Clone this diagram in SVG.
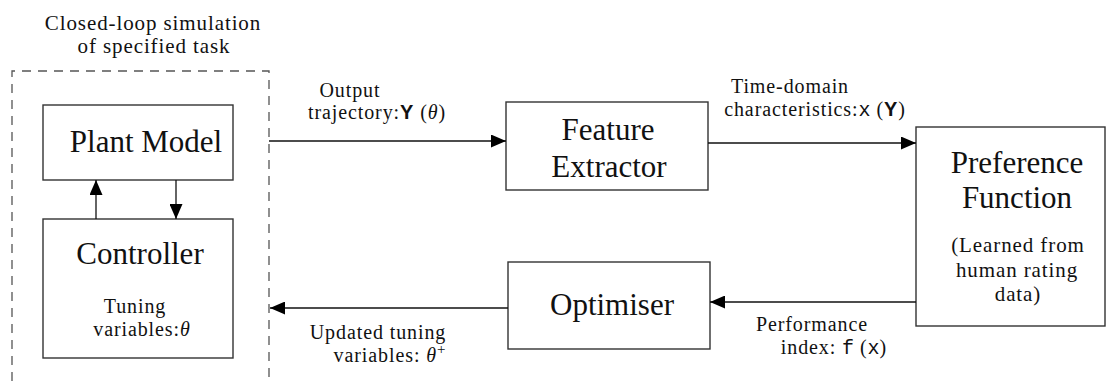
<svg xmlns="http://www.w3.org/2000/svg" width="1106" height="381" viewBox="0 0 1106 381">
  <style>
    .box { fill: #ffffff; stroke: #333333; stroke-width: 1.4; }
    .frame { fill: none; stroke: #555555; stroke-width: 1.3; stroke-dasharray: 9 7; }
    .edge { fill: none; stroke: #111111; stroke-width: 1.3; marker-end: url(#head); }
    .big { font-family: "Liberation Serif", "Times New Roman", serif; font-size: 31px; fill: #111; text-anchor: middle; }
    .lbl { font-family: "Liberation Serif", "Times New Roman", serif; font-size: 20px; letter-spacing: 0.9px; fill: #111; text-anchor: middle; }
    .sub { font-family: "Liberation Serif", "Times New Roman", serif; font-size: 21px; letter-spacing: 0.9px; fill: #111; text-anchor: middle; }
    .bf { font-family: "Liberation Sans", Arial, sans-serif; font-weight: bold; }
    .tt { font-family: "Liberation Mono", "Courier New", monospace; letter-spacing: 0; }
    .it { font-style: italic; }
  </style>
  <defs>
    <marker id="head" markerUnits="userSpaceOnUse" markerWidth="15" markerHeight="13" refX="15" refY="6.5" orient="auto">
      <path d="M0,0 L15,6.5 L0,13 z" fill="#000"/>
    </marker>
  </defs>

  <!-- closed-loop simulation frame -->
  <g id="simulation">
    <text class="sub" x="153" y="30">Closed-loop simulation</text>
    <text class="sub" x="154" y="53">of specified task</text>
    <path class="frame" d="M12,381 V71 H269 V381"/>
  </g>

  <g id="plant">
    <rect class="box" x="43" y="105" width="190" height="75"/>
    <text class="big" x="146" y="152">Plant Model</text>
  </g>

  <g id="controller">
    <rect class="box" x="43" y="219" width="190" height="139"/>
    <text class="big" x="140" y="264">Controller</text>
    <text class="lbl" x="135" y="313">Tuning</text>
    <text class="lbl" x="142" y="336">variables:<tspan class="it">θ</tspan></text>
  </g>

  <g id="feature-extractor">
    <rect class="box" x="506" y="102" width="202" height="88"/>
    <text class="big" x="608" y="140">Feature</text>
    <text class="big" x="609" y="177">Extractor</text>
  </g>

  <g id="preference-function">
    <rect class="box" x="916" y="127" width="189" height="199"/>
    <text class="big" x="1017" y="173">Preference</text>
    <text class="big" x="1017" y="208">Function</text>
    <text class="sub" x="1018" y="252">(Learned from</text>
    <text class="sub" x="1017" y="277">human rating</text>
    <text class="sub" x="1018" y="301">data)</text>
  </g>

  <g id="optimiser">
    <rect class="box" x="508" y="262" width="202" height="87"/>
    <text class="big" x="612" y="315">Optimiser</text>
  </g>

  <!-- connectors -->
  <g id="connectors">
    <line class="edge" x1="96" y1="219" x2="96" y2="180"/>
    <line class="edge" x1="176" y1="180" x2="176" y2="219"/>
    <line class="edge" x1="269" y1="141" x2="506" y2="141"/>
    <line class="edge" x1="708" y1="143" x2="916" y2="143"/>
    <line class="edge" x1="916" y1="302" x2="710" y2="302"/>
    <line class="edge" x1="508" y1="308" x2="270" y2="308"/>
  </g>

  <!-- connector labels -->
  <g id="labels">
    <text class="lbl" x="350" y="97">Output</text>
    <text class="lbl" x="377" y="119">trajectory:<tspan class="bf">Y</tspan> (<tspan class="it">θ</tspan>)</text>
    <text class="lbl" x="790" y="93">Time-domain</text>
    <text class="lbl" x="815" y="116">characteristics:<tspan class="tt">x</tspan> (<tspan class="bf">Y</tspan>)</text>
    <text class="lbl" x="812" y="331">Performance</text>
    <text class="lbl" x="834" y="354">index: <tspan class="tt">f</tspan> (<tspan class="tt">x</tspan>)</text>
    <text class="lbl" x="378" y="339">Updated tuning</text>
    <text class="lbl" x="390" y="362">variables: <tspan class="it">θ</tspan><tspan dy="-8" font-size="15">+</tspan></text>
  </g>
</svg>
